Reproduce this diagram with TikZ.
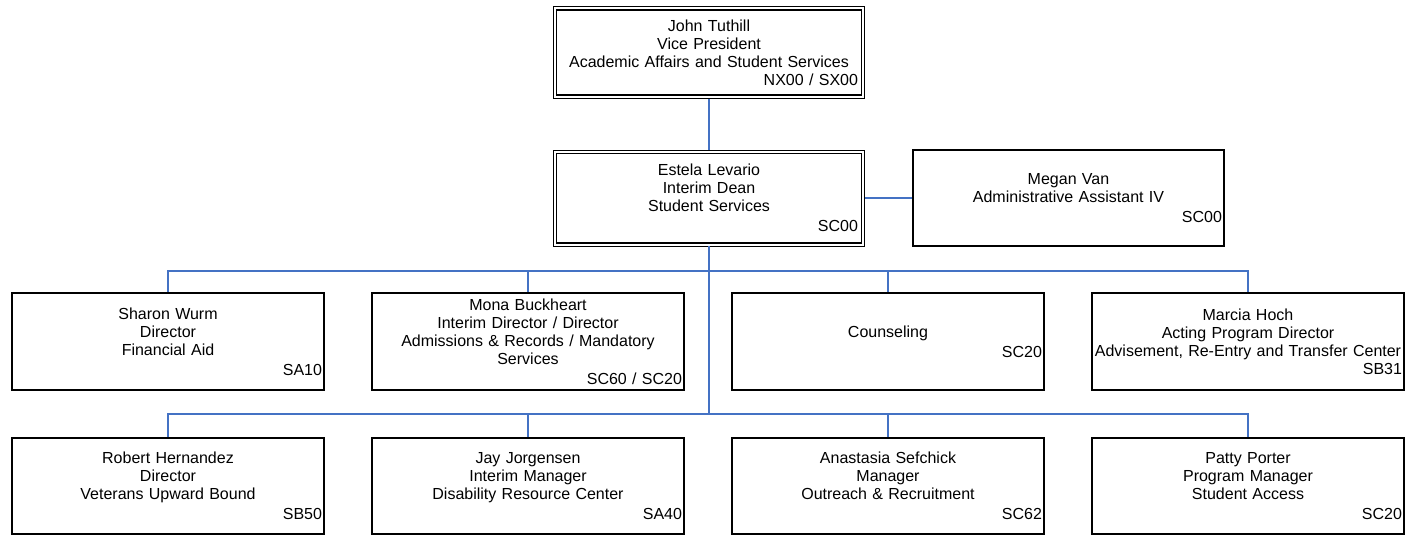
\documentclass[tikz,border=0pt]{standalone}
\usepackage{fontspec}
\setmainfont{Liberation Sans}
\definecolor{linkblue}{RGB}{68,114,196}
\tikzset{box/.style = {draw, rectangle, line width = 1.4pt, align = center,
                       inner xsep = 2pt, inner ysep = 0pt, text width = 308pt,
                       minimum width = 312pt, minimum height = 96pt,
                       font = \fontsize{16}{18}\selectfont}}
\tikzset{headbox/.style = {box, line width = 1.8pt, inner xsep = 3.5pt,
                           text width = 298pt, minimum width = 305pt}}
\tikzset{frame/.style = {draw, line width = 0.9pt}}
\tikzset{link/.style = {draw = linkblue, line width = 1.6pt}}
\newcommand{\unitcode}[1]{\\[2pt]\hspace*{\fill}#1}

\begin{document}
\begin{tikzpicture}[x = 1pt, y = -1pt]
      \useasboundingbox (0, 0) rectangle (1406, 536);

      \node [headbox, minimum height = 85.2pt] (vp) at (709, 52.5) {John Tuthill\\Vice President\\Academic Affairs and Student Services\\\hspace*{\fill}NX00 / SX00};
      \node [headbox, minimum height = 89.2pt] (dean) at (709, 198) {Estela Levario\\Interim Dean\\Student Services\unitcode{SC00}};
      \node [box, minimum width = 311pt, text width = 307pt] (asst) at (1068.5, 198) {Megan Van\\Administrative Assistant IV\unitcode{SC00}};

      \node [box, minimum height = 97pt] (aid) at (168, 341.5) {Sharon Wurm\\Director\\Financial Aid\unitcode{SA10}};
      \node [box, minimum height = 97pt] (adm) at (528, 341.5) {Mona Buckheart\\Interim Director / Director\\Admissions \& Records / Mandatory\\Services\unitcode{SC60 / SC20}};
      \node [box, minimum height = 97pt] (cou) at (888, 341.5) {Counseling\unitcode{SC20}};
      \node [box, minimum height = 97pt] (art) at (1248, 341.5) {Marcia Hoch\\Acting Program Director\\Advisement, Re-Entry and Transfer Center\\\hspace*{\fill}SB31};

      \node [box] (vub) at (168, 486) {Robert Hernandez\\Director\\Veterans Upward Bound\unitcode{SB50}};
      \node [box] (drc) at (528, 486) {Jay Jorgensen\\Interim Manager\\Disability Resource Center\unitcode{SA40}};
      \node [box] (out) at (888, 486) {Anastasia Sefchick\\Manager\\Outreach \& Recruitment\unitcode{SC62}};
      \node [box] (acc) at (1248, 486) {Patty Porter\\Program Manager\\Student Access\unitcode{SC20}};

      \foreach \n in {vp, dean}
        \draw [frame] ([shift = {(-2.5pt, -2.5pt)}]\n.south west) rectangle ([shift = {(2.5pt, 2.5pt)}]\n.north east);

      \coordinate (bus1) at (709, 271);
      \coordinate (bus2) at (709, 414);

      \draw [link] ([yshift = -2.5pt]vp.south) -- ([yshift = 2.5pt]dean.north);
      \draw [link] ([xshift = 2.5pt]dean.east) -- (asst.west);
      \draw [link] ([yshift = -2.5pt]dean.south) -- (bus2);
      \foreach \n in {aid, adm, cou, art} \draw [link] (bus1) -| (\n.north);
      \foreach \n in {vub, drc, out, acc} \draw [link] (bus2) -| (\n.north);
    \end{tikzpicture}
\end{document}
